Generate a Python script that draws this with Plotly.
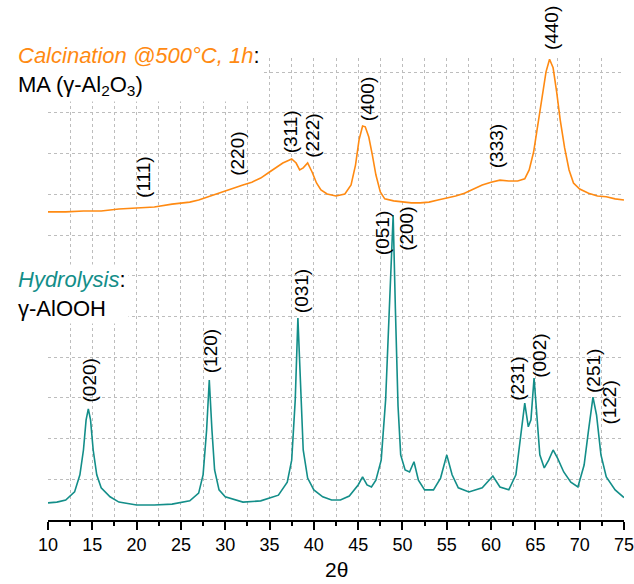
import plotly.graph_objects as go

# ---- Calcination @500°C (MA, gamma-Al2O3) pattern ----
calc_2theta = [10, 12, 14, 16, 18, 20, 22, 24, 26, 27, 28, 29, 30, 31, 32, 33, 34, 35, 36, 36.5,
               37, 37.5, 38, 38.4, 38.8, 39.3, 39.8, 40.3, 40.8, 41.5, 42.5, 43.5, 44.2, 44.7,
               45.1, 45.5, 45.8, 46.2, 46.6, 47.0, 47.5, 48, 49, 50, 51, 52, 53, 54, 55, 56, 57,
               58, 59, 60, 61, 62, 63, 63.8, 64.3, 64.8, 65.3, 65.8, 66.2, 66.6, 67.0, 67.4,
               67.8, 68.3, 68.8, 69.3, 70, 71, 72, 73, 74, 75]
calc_int = [7.57, 7.57, 7.59, 7.59, 7.64, 7.67, 7.69, 7.76, 7.81, 7.86, 7.94, 8.01, 8.08, 8.16,
            8.23, 8.30, 8.40, 8.55, 8.70, 8.77, 8.82, 8.87, 8.77, 8.60, 8.65, 8.77, 8.55, 8.28,
            8.11, 8.01, 7.96, 8.01, 8.23, 8.72, 9.34, 9.68, 9.66, 9.41, 8.97, 8.48, 8.06, 7.89,
            7.84, 7.81, 7.79, 7.79, 7.81, 7.86, 7.91, 7.96, 8.03, 8.13, 8.23, 8.30, 8.35, 8.33,
            8.33, 8.38, 8.60, 9.04, 9.71, 10.44, 11.01, 11.32, 11.11, 10.52, 9.83, 9.14, 8.60,
            8.28, 8.13, 8.03, 7.96, 7.94, 7.89, 7.86]

# ---- Hydrolysis (gamma-AlOOH) pattern ----
hyd_2theta = [10, 11, 12, 13, 13.6, 14.0, 14.3, 14.55, 14.8, 15.1, 15.5, 16, 17, 18, 20, 22, 24,
              26, 27, 27.5, 27.9, 28.2, 28.5, 28.8, 29.3, 30, 32, 34, 36, 37, 37.5, 37.9, 38.2,
              38.5, 38.8, 39.3, 40, 41, 42, 43, 44, 45, 45.5, 46, 46.5, 47, 47.6, 48.1, 48.5,
              48.95, 49.2, 49.5, 49.8, 50.3, 50.8, 51.3, 51.8, 52.5, 53.5, 54.3, 55.0, 55.6,
              56.3, 57.5, 59, 60.2, 61, 62, 62.8, 63.4, 63.8, 64.2, 64.5, 64.85, 65.1, 65.5,
              66.0, 66.5, 67.0, 67.5, 68.2, 69, 69.8, 70.5, 71.0, 71.5, 71.9, 72.4, 73, 74, 75]
hyd_int = [0.42, 0.44, 0.49, 0.69, 1.11, 1.72, 2.46, 2.73, 2.46, 1.72, 1.11, 0.79, 0.57, 0.44,
           0.37, 0.37, 0.39, 0.47, 0.66, 1.11, 2.21, 3.44, 2.21, 1.23, 0.74, 0.57, 0.44, 0.47,
           0.61, 0.93, 1.47, 2.95, 4.96, 3.19, 1.72, 1.03, 0.74, 0.57, 0.49, 0.49, 0.59, 0.86,
           1.06, 0.86, 0.81, 0.98, 1.47, 2.95, 5.0, 7.49, 5.2, 2.8, 1.60, 1.23, 1.18, 1.43,
           0.98, 0.74, 0.74, 1.03, 1.60, 1.11, 0.79, 0.69, 0.79, 1.08, 0.81, 0.74, 1.11, 2.21,
           2.87, 2.29, 2.46, 3.49, 2.70, 1.60, 1.28, 1.47, 1.72, 1.52, 1.18, 0.93, 0.81, 1.35,
           2.21, 3.02, 2.58, 1.60, 1.06, 0.74, 0.55]

# ---- Reflection labels (x in 2θ, y = label base in intensity units) ----
calc_hkl = ["(111)", "(220)", "(311)", "(222)", "(400)", "(333)", "(440)"]
calc_hkl_x = [20.7, 31.3, 37.3, 39.9, 46.0, 60.7, 66.9]
calc_hkl_y = [7.86, 8.40, 8.97, 8.85, 9.75, 8.60, 11.50]

hyd_hkl = ["(020)", "(120)", "(031)", "(051)", "(200)", "(231)", "(002)", "(251)", "(122)"]
hyd_hkl_x = [14.7, 28.3, 38.7, 47.7, 50.5, 63.0, 65.5, 71.5, 73.4]
hyd_hkl_y = [2.83, 3.56, 5.04, 6.46, 6.56, 2.87, 3.44, 3.07, 2.29]

x_ticks = [10, 15, 20, 25, 30, 35, 40, 45, 50, 55, 60, 65, 70, 75]
Y_RANGE = [0, 11.35]

ORANGE = "#FF8A12"
TEAL = "#138E89"
FONT = "Liberation Sans, Arial, sans-serif"

fig = go.Figure()
fig.add_trace(go.Scatter(x=hyd_2theta, y=hyd_int, mode="lines",
                         line=dict(color=TEAL, width=1.6), showlegend=False))
fig.add_trace(go.Scatter(x=calc_2theta, y=calc_int, mode="lines",
                         line=dict(color=ORANGE, width=1.6), showlegend=False))

annotations = []
span = Y_RANGE[1] - Y_RANGE[0]
for t, x, y in zip(calc_hkl + hyd_hkl, calc_hkl_x + hyd_hkl_x, calc_hkl_y + hyd_hkl_y):
    annotations.append(dict(x=x, y=(y - Y_RANGE[0]) / span, xref="x", yref="paper", text=t,
                            textangle=-90, showarrow=False, xanchor="center", yanchor="bottom",
                            font=dict(family=FONT, size=19, color="black")))

annotations.append(dict(
    xref="paper", yref="paper", x=-0.058, y=1.04, xanchor="left", yanchor="top",
    align="left", showarrow=False, bgcolor="white", borderpad=2,
    text=f"<i><span style='color:{ORANGE}'>Calcination @500°C, 1h</span></i>:<br>MA (γ-Al<sub>2</sub>O<sub>3</sub>)",
    font=dict(family=FONT, size=22, color="black")))
annotations.append(dict(
    xref="paper", yref="paper", x=-0.058, y=0.555, xanchor="left", yanchor="top",
    align="left", showarrow=False, bgcolor="white", borderpad=2,
    text=f"<i><span style='color:{TEAL}'>Hydrolysis</span></i>:<br>γ-AlOOH",
    font=dict(family=FONT, size=22, color="black")))

# axis title as paper annotation so it does not move the plot area
annotations.append(dict(
    xref="paper", yref="paper", x=0.5, y=-0.107, xanchor="center", yanchor="middle",
    showarrow=False, text="2θ", font=dict(family=FONT, size=21, color="black")))

fig.update_layout(
    width=634, height=584,
    margin=dict(l=48, r=10, t=58, b=64, autoexpand=False),
    paper_bgcolor="white", plot_bgcolor="white",
    annotations=annotations,
    font=dict(family=FONT, color="black"),
    xaxis=dict(
        range=[10, 75], tickvals=x_ticks, ticktext=[str(v) for v in x_ticks],
        ticks="outside", ticklen=8, tickwidth=1.5, tickcolor="black",
        showline=True, linecolor="black", linewidth=1.5,
        showgrid=True, gridcolor="#BDBDBD", griddash="dot", gridwidth=1,
        zeroline=False, ticklabeloverflow="allow", automargin=False,
        tickfont=dict(family=FONT, size=18, color="black"),
        minor=dict(dtick=2.5, tick0=10, ticks="outside", ticklen=4, tickwidth=1.5,
                   tickcolor="black", showgrid=True, gridcolor="#BDBDBD", griddash="dot"),
    ),
    yaxis=dict(
        range=Y_RANGE, dtick=1, showticklabels=False, ticks="", automargin=False,
        showgrid=True, gridcolor="#BDBDBD", griddash="dot", gridwidth=1,
        zeroline=False, showline=False,
    ),
)

fig.write_html("out.html")
